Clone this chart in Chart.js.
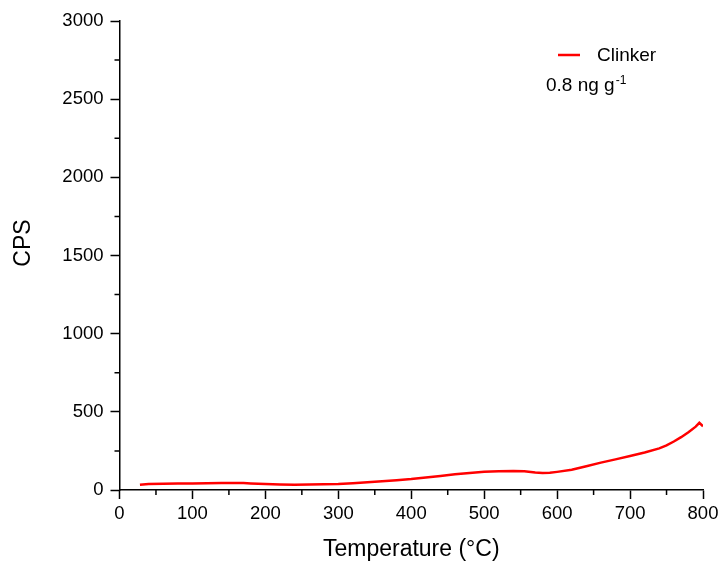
<!DOCTYPE html>
<html>
<head>
<meta charset="utf-8">
<script src="https://cdn.jsdelivr.net/npm/chart.js@4/dist/chart.umd.min.js"></script>
<style>
html,body{margin:0;padding:0;background:#fff;}
#wrap{width:721px;height:562px;position:relative;}
</style>
</head>
<body>
<div id="wrap"><canvas id="c" width="721" height="562"></canvas></div>
<script>
const temperature = [28,40,60,80,100,120,140,160,170,180,200,220,240,260,280,300,320,340,360,380,400,420,440,460,480,500,520,540,555,570,580,590,600,620,640,660,680,700,720,740,750,760,770,780,790,795,800];
const cps = [33,39,40,41,42,43,44,44,44,42,38,35,34,35,36,38,43,50,56,63,70,80,90,100,108,116,120,121,120,112,108,110,116,130,152,175,196,217,240,266,285,310,338,370,405,430,408];
const xMinorTicks = [50,150,250,350,450,550,650,750];
const yMinorTicks = [250,750,1250,1750,2250,2750];
const seriesName = 'Clinker';
const noteText = '0.8 ng g';
const noteSup = '-1';
const xTitle = 'Temperature (°C)';
const yTitle = 'CPS';

const FONT = 'Arial, "Liberation Sans", sans-serif';

const decor = {
  id: 'decor',
  afterDraw(chart) {
    const ctx = chart.ctx;
    const xs = chart.scales.x, ys = chart.scales.y;
    ctx.save();
    ctx.strokeStyle = '#000';
    ctx.lineWidth = 1.5;
    ctx.beginPath();
    xMinorTicks.forEach(v => {
      const p = xs.getPixelForValue(v);
      ctx.moveTo(p, xs.top); ctx.lineTo(p, xs.top + 5);
    });
    yMinorTicks.forEach(v => {
      const p = ys.getPixelForValue(v);
      ctx.moveTo(ys.right, p); ctx.lineTo(ys.right - 5, p);
    });
    ctx.stroke();

    ctx.fillStyle = '#000';
    ctx.font = '23px ' + FONT;
    ctx.textAlign = 'center';
    ctx.textBaseline = 'middle';
    ctx.fillText(xTitle, (chart.chartArea.left + chart.chartArea.right) / 2, 550);
    ctx.save();
    ctx.translate(24, 243);
    ctx.rotate(-Math.PI / 2);
    ctx.fillText(yTitle, 0, 0);
    ctx.restore();

    ctx.strokeStyle = '#ff0000';
    ctx.lineWidth = 2.5;
    ctx.beginPath();
    ctx.moveTo(558, 55); ctx.lineTo(580, 55);
    ctx.stroke();
    ctx.font = '19px ' + FONT;
    ctx.textAlign = 'left';
    ctx.textBaseline = 'middle';
    ctx.fillText(seriesName, 597, 56);
    ctx.textBaseline = 'alphabetic';
    ctx.fillText(noteText, 546, 91);
    const w = ctx.measureText(noteText).width;
    ctx.font = '12px ' + FONT;
    ctx.fillText(noteSup, 546 + w + 1, 84);
    ctx.restore();
  }
};

new Chart(document.getElementById('c'), {
  type: 'line',
  data: {
    datasets: [{
      label: seriesName,
      data: temperature.map((t, i) => ({x: t, y: cps[i]})),
      borderColor: '#ff0000',
      borderWidth: 2.5,
      pointRadius: 0,
      tension: 0,
      fill: false
    }]
  },
  options: {
    responsive: false,
    animation: false,
    layout: {padding: {left: 0, right: 18, top: 21, bottom: 0}},
    plugins: {legend: {display: false}, tooltip: {enabled: false}},
    scales: {
      x: {
        type: 'linear', min: 0, max: 800,
        afterFit: s => { s.height = 72; s.paddingRight = 0; s.paddingLeft = 0; },
        ticks: {stepSize: 100, color: '#000', font: {size: 18.5, family: FONT}, padding: 4, maxRotation: 0, callback: v => String(v)},
        grid: {drawOnChartArea: false, drawTicks: true, tickLength: 9, tickColor: '#000', tickWidth: 1.5},
        border: {display: true, color: '#000', width: 1.5}
      },
      y: {
        type: 'linear', min: 0, max: 3000,
        afterFit: s => { s.width = 119.5; s.paddingTop = 0; s.paddingBottom = 0; },
        ticks: {stepSize: 500, color: '#000', font: {size: 18.5, family: FONT}, padding: 7, callback: v => String(v)},
        grid: {drawOnChartArea: false, drawTicks: true, tickLength: 9, tickColor: '#000', tickWidth: 1.5},
        border: {display: true, color: '#000', width: 1.5}
      }
    }
  },
  plugins: [decor]
});
</script>
</body>
</html>
